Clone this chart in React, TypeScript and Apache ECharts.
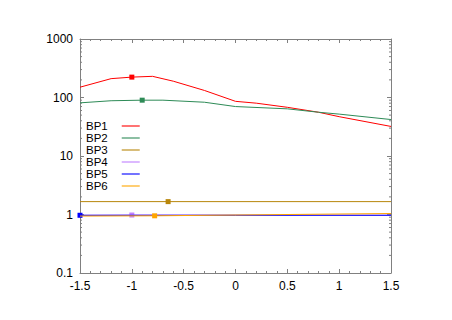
import React, { useEffect, useRef } from "react";
import * as echarts from "echarts";

const seriesNames = ["BP1", "BP2", "BP3", "BP4", "BP5", "BP6"];
const colors = ["#ff0000", "#2e8b57", "#b8860b", "#c080ff", "#0000ff", "#ffa500"];

const bp1X = [-1.5, -1.2, -1.0, -0.8, -0.6, -0.3, 0, 0.2, 0.5, 0.8, 1.0, 1.5];
const bp1Y = [150, 210, 223, 230, 190, 132, 86, 80, 68, 56, 47, 32];
const bp2X = [-1.5, -1.2, -0.9, -0.7, -0.3, 0, 0.5, 0.8, 1.0, 1.5];
const bp2Y = [81, 88, 90, 90, 83, 70, 64, 56, 52, 42];
const bp3X = [-1.5, -0.65, 1.5];
const bp3Y = [1.66, 1.66, 1.66];
const bp4X = [-1.5, -1.0, 1.5];
const bp4Y = [0.97, 0.98, 0.97];
const bp5X = [-1.5, 0, 1.5];
const bp5Y = [0.97, 0.97, 0.97];
const bp6X = [-1.5, -0.78, 1.5];
const bp6Y = [0.94, 0.95, 1.04];

const markerX = [-1.0, -0.9, -0.65, -1.0, -1.5, -0.78];

const xTicks = [-1.5, -1, -0.5, 0, 0.5, 1, 1.5];
const yTickLabels = ["0.1", "1", "10", "100", "1000"];
const yMinorMults = [2, 3, 4, 5, 6, 7, 8, 9];
const yDecades = [0.1, 1, 10, 100];

const allX = [bp1X, bp2X, bp3X, bp4X, bp5X, bp6X];
const allY = [bp1Y, bp2Y, bp3Y, bp4Y, bp5Y, bp6Y];

export default function App() {
  const ref = useRef<HTMLDivElement>(null);
  useEffect(() => {
    if (!ref.current) return;
    const chart = echarts.init(ref.current, null, { renderer: "svg" });
    const font = "Liberation Sans, Arial, sans-serif";
    const axisColor = "#808080";

    const lineSeries = seriesNames.map((name, i) => ({
      name,
      type: "line",
      symbol: "none",
      color: colors[i],
      lineStyle: { width: 1, color: colors[i] },
      showSymbol: true,
      z: 3 + i,
      data: allX[i].map((x, j) =>
        x === markerX[i]
          ? { value: [x, allY[i][j]], symbol: "rect", symbolSize: 5, itemStyle: { color: colors[i] } }
          : { value: [x, allY[i][j]] }
      ),
    }));

    const minorData: number[][] = [];
    yDecades.forEach((d) => yMinorMults.forEach((m) => minorData.push([xTicks[0], d * m])));

    const minorSeries = {
      type: "custom",
      silent: true,
      clip: false,
      z: 1,
      data: minorData,
      renderItem: (params: any, api: any) => {
        const v = api.value(1);
        const l = api.coord([xTicks[0], v]);
        const r = api.coord([xTicks[xTicks.length - 1], v]);
        return {
          type: "group",
          children: [
            { type: "line", shape: { x1: l[0], y1: l[1], x2: l[0] + 2, y2: l[1] }, style: { stroke: axisColor, lineWidth: 1 } },
            { type: "line", shape: { x1: r[0], y1: r[1], x2: r[0] - 2, y2: r[1] }, style: { stroke: axisColor, lineWidth: 1 } },
          ],
        };
      },
    };

    const xAxisBase = {
      type: "value",
      min: -1.5,
      max: 1.5,
      interval: 0.5,
      splitLine: { show: false },
      axisLine: { show: true, onZero: false, lineStyle: { color: axisColor, width: 1 } },
      axisTick: { show: true, inside: true, length: 4, lineStyle: { color: axisColor } },
      minorTick: { show: true, splitNumber: 5, length: 2, lineStyle: { color: axisColor } },
    };
    const yAxisBase = {
      type: "log",
      logBase: 10,
      min: 0.1,
      max: 1000,
      splitLine: { show: false },
      axisLine: { show: true, onZero: false, lineStyle: { color: axisColor, width: 1 } },
      axisTick: { show: true, inside: true, length: 4, lineStyle: { color: axisColor } },
    };

    chart.setOption({
      animation: false,
      backgroundColor: "#ffffff",
      grid: { left: 80, right: 61, top: 39, bottom: 47, containLabel: false },
      legend: {
        orient: "vertical",
        left: 86,
        top: 120,
        align: "right",
        icon: "rect",
        itemWidth: 18,
        itemHeight: 2,
        itemGap: 0,
        padding: 0,
        data: seriesNames,
        textStyle: { fontFamily: font, fontSize: 11.5, color: "#000", lineHeight: 11.5, padding: [0, 9, 0, 0] },
        itemStyle: { opacity: 0.55 },
      },
      xAxis: [
        {
          ...xAxisBase,
          position: "bottom",
          axisLabel: {
            show: true,
            margin: 7,
            color: "#000",
            fontFamily: font,
            fontSize: 12,
            formatter: (v: number) => String(v),
          },
        },
        { ...xAxisBase, position: "top", axisLabel: { show: false } },
      ],
      yAxis: [
        {
          ...yAxisBase,
          position: "left",
          axisLabel: {
            show: true,
            margin: 7,
            color: "#000",
            fontFamily: font,
            fontSize: 12,
            formatter: (v: number) => {
              const idx = Math.round(Math.log10(v)) + 1;
              return yTickLabels[idx] ?? String(v);
            },
          },
        },
        { ...yAxisBase, position: "right", axisLabel: { show: false } },
      ],
      series: [...lineSeries, minorSeries],
    });
    return () => chart.dispose();
  }, []);
  return <div ref={ref} style={{ width: 452, height: 320, position: "absolute", left: 0, top: 0 }} />;
}
